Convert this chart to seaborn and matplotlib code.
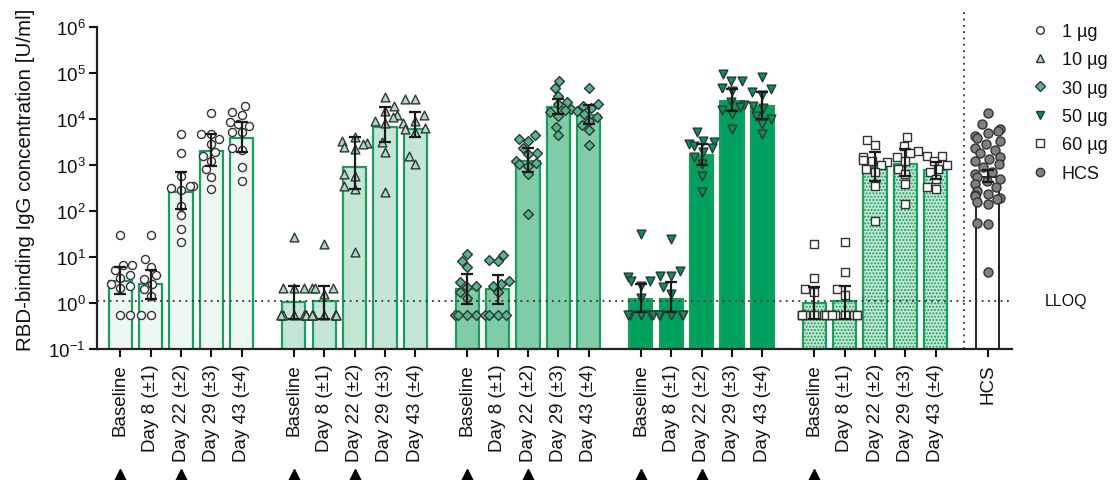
import warnings
import numpy as np
import pandas as pd
import matplotlib
matplotlib.use('Agg')
import matplotlib.pyplot as plt
import matplotlib.transforms as mtransforms
from matplotlib.lines import Line2D
from matplotlib.ticker import NullLocator
import seaborn as sns

warnings.filterwarnings('ignore')

timepoints = ['Baseline', 'Day 8 (±1)', 'Day 22 (±2)', 'Day 29 (±3)', 'Day 43 (±4)']
doses = ['1 µg', '10 µg', '30 µg', '50 µg', '60 µg']

# geometric means (bar heights) and 95% CI, one value per timepoint
gmt_1ug = [3.0, 2.6, 260, 2000, 3800]
lo_1ug = [1.6, 1.2, 110, 950, 1900]
hi_1ug = [6.0, 5.2, 710, 4700, 8500]

gmt_10ug = [1.07, 1.1, 890, 6600, 6000]
lo_10ug = [0.45, 0.45, 300, 3100, 4000]
hi_10ug = [2.4, 2.4, 4000, 17800, 14000]

gmt_30ug = [2.0, 2.0, 1230, 17800, 12300]
lo_30ug = [0.95, 0.95, 690, 12900, 7800]
hi_30ug = [4.3, 4.1, 2400, 27000, 20000]

gmt_50ug = [1.23, 1.25, 1660, 25000, 19500]
lo_50ug = [0.63, 0.63, 1000, 15000, 10000]
hi_50ug = [2.6, 2.8, 2800, 45000, 38000]

gmt_60ug = [1.0, 1.12, 890, 1030, 760]
lo_60ug = [0.45, 0.45, 460, 590, 500]
hi_60ug = [2.2, 2.4, 1900, 2200, 1150]

# individual subjects
pts_1ug = [
    [30, 6.8, 6.8, 5.2, 4.0, 3.5, 2.6, 2.3, 2.1, 0.55, 0.55],
    [30, 9, 6, 4, 3.3, 2.6, 2.0, 1.4, 0.55, 0.55],
    [4700, 1800, 590, 350, 350, 320, 280, 130, 81, 41, 21],
    [13800, 4700, 4700, 3700, 2900, 1900, 1600, 1230, 810, 540, 300],
    [19000, 13900, 12200, 8500, 7800, 7100, 5100, 5100, 2300, 2150, 890, 460],
]
pts_10ug = [
    [27, 2.1, 2.1, 2.1, 0.55, 0.55, 0.55, 0.55, 0.55, 0.55, 0.55, 0.55],
    [19, 2.1, 2.1, 2.1, 1.6, 0.55, 0.55, 0.55, 0.55, 0.55, 0.55, 0.55],
    [4000, 3400, 3000, 2900, 2500, 2200, 630, 590, 350, 300, 12.6],
    [29500, 19500, 15000, 12000, 11000, 9100, 8000, 3100, 1900, 260],
    [27000, 27000, 12000, 9100, 8000, 6500, 6000, 5100, 1600, 1050],
]
pts_30ug = [
    [11.7, 8.3, 6.0, 2.8, 2.4, 2.2, 1.7, 1.3, 0.55, 0.55, 0.55, 0.55],
    [11, 8.5, 8.0, 3.0, 2.6, 2.4, 1.7, 0.55, 0.55, 0.55, 0.55],
    [4400, 3700, 3400, 2400, 1800, 1700, 1230, 1100, 1050, 960, 630, 86],
    [68000, 47000, 32000, 24000, 21000, 16500, 15500, 14000, 11800, 6600, 4400],
    [47000, 21000, 19500, 17000, 15000, 12900, 11000, 9100, 7400, 5900, 2700],
]
pts_50ug = [
    [32, 3.6, 3.0, 3.0, 2.4, 1.3, 0.55, 0.55, 0.55, 0.55, 0.55],
    [25, 5.0, 3.9, 3.9, 2.2, 1.6, 0.55, 0.55, 0.55, 0.55, 0.55],
    [5100, 3400, 3100, 2900, 2600, 2400, 1900, 1470, 1050, 590, 255],
    [95000, 68000, 68000, 47000, 41000, 23000, 20000, 18000, 16000, 12900, 6000],
    [81000, 45000, 38000, 34000, 19500, 17000, 11800, 10000, 7800, 4700],
]
pts_60ug = [
    [19, 3.5, 2.0, 1.7, 0.55, 0.55, 0.55, 0.55, 0.55, 0.55, 0.55, 0.55],
    [21, 4.7, 2.0, 1.5, 0.55, 0.55, 0.55, 0.55, 0.55, 0.55, 0.55],
    [3500, 2700, 1500, 1300, 1230, 1150, 1000, 820, 700, 355, 62],
    [4000, 2600, 2050, 1800, 1470, 1200, 820, 630, 390, 140],
    [1600, 1600, 1230, 1000, 820, 700, 500, 325, 300],
]

# human convalescent serum
hcs_pts = [13800, 7800, 6200, 5600, 5000, 4300, 3800, 3300, 2800, 2400, 2100,
           1800, 1500, 1350, 1200, 1050, 900, 700, 630, 560, 500, 440, 390,
           330, 270, 240, 225, 210, 195, 180, 160, 140, 55, 52, 4.7]
hcs_gmt = 560
hcs_lo = 420
hcs_hi = 760

lloq = 1.13
# vaccination days per dose group
vacc_days = [['Baseline', 'Day 22 (±2)']] * 4 + [['Baseline']]

gmts = [gmt_1ug, gmt_10ug, gmt_30ug, gmt_50ug, gmt_60ug]
los = [lo_1ug, lo_10ug, lo_30ug, lo_50ug, lo_60ug]
his = [hi_1ug, hi_10ug, hi_30ug, hi_50ug, hi_60ug]
pts = [pts_1ug, pts_10ug, pts_30ug, pts_50ug, pts_60ug]

bar_fill = ['#eef8f3', '#c3e6d5', '#80cba8', '#00a05f', '#c4e8d3']
hatches = [None, None, None, None, '.....']
mk_style = ['o', '^', 'D', 'v', 's']
mk_fill = ['white', '#a9dcc4', '#4fb88b', '#00955a', 'white']
mk_size = [5.8, 6.3, 5.0, 6.3, 5.5]
edge_green = '#1a9e5c'

gap = 5.7
hcs_pos = 5 * gap

bar_rows, pt_rows = [], []
for d, dose in enumerate(doses):
    for t, tp in enumerate(timepoints):
        pos = d * gap + t
        bar_rows.append(dict(dose=dose, tp=tp, pos=pos, gmt=gmts[d][t],
                             lo=los[d][t], hi=his[d][t]))
        for v in pts[d][t]:
            pt_rows.append(dict(dose=dose, tp=tp, pos=pos, value=v))
bars = pd.DataFrame(bar_rows)
points = pd.DataFrame(pt_rows)
hcs_df = pd.DataFrame(dict(pos=[hcs_pos] * len(hcs_pts), value=hcs_pts))

sns.set_style('ticks')
plt.rcParams['font.family'] = ['Liberation Sans', 'DejaVu Sans']
plt.rcParams['mathtext.default'] = 'regular'
plt.rcParams['hatch.linewidth'] = 1.0
plt.rcParams['text.color'] = '#111111'
plt.rcParams['xtick.color'] = '#111111'
plt.rcParams['ytick.color'] = '#111111'
plt.rcParams['axes.labelcolor'] = '#111111'

fig = plt.figure(figsize=(11.13, 4.81), dpi=100)
ax = fig.add_axes([97 / 1113, 1 - 350 / 481, (1012 - 97) / 1113, 322 / 481])
ax.set_yscale('log')
xlim = (-0.76, 29.3)
ylim = (0.1, 1e6)
ax.set_xlim(*xlim)
ax.set_ylim(*ylim)

for d, dose in enumerate(doses):
    sub = bars[bars.dose == dose]
    kw = dict(hatch=hatches[d]) if hatches[d] else {}
    sns.barplot(data=sub, x='pos', y='gmt', native_scale=True, width=0.76,
                color=bar_fill[d], saturation=1, edgecolor=edge_green,
                linewidth=1.6, errorbar=None, ax=ax, zorder=1, **kw)
sns.barplot(x=[hcs_pos], y=[hcs_gmt], native_scale=True, width=0.76,
            color='white', saturation=1, edgecolor='#222222', linewidth=1.4,
            errorbar=None, ax=ax, zorder=1)
ax.set_xlim(*xlim)
ax.set_ylim(*ylim)

for d, dose in enumerate(doses):
    sub = points[points.dose == dose]
    sns.swarmplot(data=sub, x='pos', y='value', native_scale=True,
                  marker=mk_style[d], color=mk_fill[d], edgecolor='#333333',
                  linewidth=1.0, size=mk_size[d], ax=ax, zorder=3)
    ax.set_xlim(*xlim)
    ax.set_ylim(*ylim)
sns.swarmplot(data=hcs_df, x='pos', y='value', native_scale=True,
              marker='o', color='#808080', edgecolor='#333333', linewidth=1.0,
              size=6.5, ax=ax, zorder=3)

ax.errorbar(bars.pos, bars.gmt, yerr=[bars.gmt - bars.lo, bars.hi - bars.gmt],
            fmt='none', ecolor='#1a1a1a', elinewidth=1.6, capsize=4.5,
            capthick=1.6, zorder=4)
ax.errorbar([hcs_pos], [hcs_gmt], yerr=[[hcs_gmt - hcs_lo], [hcs_hi - hcs_gmt]],
            fmt='none', ecolor='#1a1a1a', elinewidth=1.6, capsize=4.5,
            capthick=1.6, zorder=4)

# LLOQ line and separator
ax.axhline(lloq, color='#333333', linestyle=(0, (1, 2.5)), linewidth=1.3, zorder=2)
ax.plot([27.73, 27.73], [0, 1.056], transform=ax.get_xaxis_transform(),
        color='#333333', linestyle=(0, (1, 2.5)), linewidth=1.3, clip_on=False)
ax.text(1.036, lloq, 'LLOQ', transform=ax.get_yaxis_transform(),
        fontsize=11.5, va='center', ha='left')

ax.set_xlim(*xlim)
ax.set_ylim(*ylim)
tick_pos = list(bars.pos) + [hcs_pos]
tick_lab = timepoints * 5 + ['HCS']
ax.set_xticks(tick_pos)
ax.set_xticklabels(tick_lab, rotation=90, fontsize=13.5)
ax.set_yticks([10.0 ** k for k in range(-1, 7)])
ax.yaxis.set_minor_locator(NullLocator())
ax.tick_params(axis='y', labelsize=13.5, length=6, width=1.5, pad=2)
ax.tick_params(axis='x', length=6, width=1.5, pad=4)
for s in ['top', 'right']:
    ax.spines[s].set_visible(False)
for s in ['left', 'bottom']:
    ax.spines[s].set_linewidth(1.6)
    ax.spines[s].set_color('#222222')
ax.set_xlabel('')
ax.set_ylabel('RBD-binding IgG concentration [U/ml]', fontsize=14.8)
ax.yaxis.set_label_coords(-0.068, 0.53)

# vaccination markers
trans = mtransforms.blended_transform_factory(ax.transData, ax.transAxes)
for d, days in enumerate(vacc_days):
    xs = [d * gap + timepoints.index(tp) for tp in days]
    ax.plot(xs, [-0.39] * len(xs), '^', color='black', markersize=8,
            transform=trans, clip_on=False)

handles = [Line2D([], [], linestyle='none', marker=mk_style[d],
                  markerfacecolor=mk_fill[d], markeredgecolor='#333333',
                  markeredgewidth=1.0, markersize=5.5) for d in range(5)]
handles.append(Line2D([], [], linestyle='none', marker='o', markerfacecolor='#808080',
                      markeredgecolor='#333333', markeredgewidth=1.0, markersize=6))
fig.legend(handles, doses + ['HCS'], loc='upper left',
           bbox_to_anchor=(1031 / 1113, 1 - 24 / 481), frameon=False,
           fontsize=13, handlelength=1.0, handletextpad=0.7, labelspacing=0.63,
           borderaxespad=0, borderpad=0)

fig.savefig('out.png', dpi=100)
